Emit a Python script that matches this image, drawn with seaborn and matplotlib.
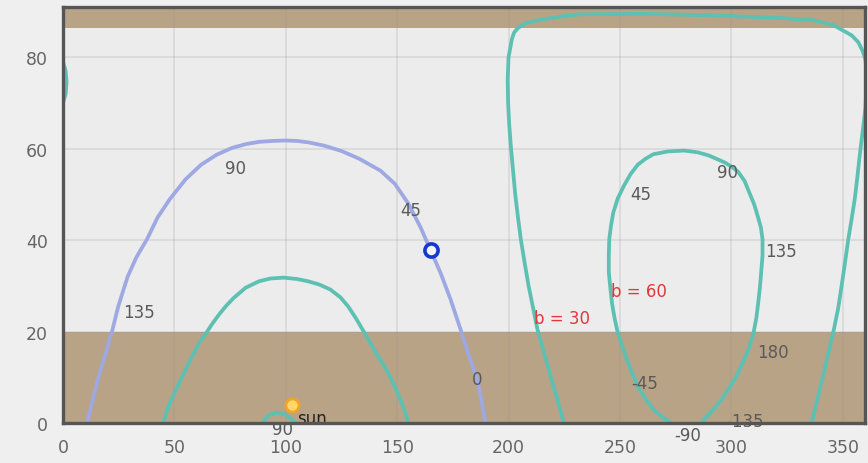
import numpy as np
import pandas as pd
import matplotlib
matplotlib.use("Agg")
import matplotlib.pyplot as plt
import seaborn as sns

# ==============================
# DATA
# ==============================

# lavender arch
arch_x = [10.8, 15.6, 22, 24.8, 29, 33, 37.7, 42.5, 48, 55, 62, 69, 76, 82, 88, 94, 100, 105, 110, 117,
          125, 133, 142.5, 149, 155, 160.5, 165, 169.5, 174, 178.5, 182, 186, 189.7]
arch_y = [0, 9.5, 20, 25.5, 32, 36.3, 40.2, 45, 49, 53.3, 56.5, 58.7, 60.2, 61, 61.5, 61.7, 61.8, 61.7, 61.4, 60.7,
          59.5, 57.8, 55.2, 52.3, 48, 42.8, 37.8, 32.8, 27, 20.4, 15, 9.5, 0]

# teal inner arch
inner_x = [45, 46.5, 48.5, 50.5, 52.6, 55, 58, 61, 64.7, 67, 70, 73, 76.5, 82, 88, 93, 99, 105, 110, 115,
           120, 124.5, 128, 131.5, 135, 138, 141, 144, 147, 149.5, 151.5, 153.5, 155]
inner_y = [0, 2.5, 5, 7.0, 9.2, 11.7, 14.6, 17.4, 20, 21.7, 23.7, 25.5, 27.3, 29.6, 31, 31.6, 31.8, 31.5, 31, 30.3,
           29.2, 27.5, 25.5, 22.9, 20, 17.5, 14.9, 12.6, 10.0, 7.4, 5.0, 2.5, 0]

# small teal arc next to the sun
small_x = [89.5, 92, 96, 100, 104.5]
small_y = [0, 1.6, 2.3, 1.8, 0]

# big teal loop on the right (wraps past 360)
big_x = [224.8, 222, 219, 216, 213, 211, 209, 207.2, 205.5, 204.2, 203, 202, 201, 200.3, 199.8, 199.6, 200,
         201.5, 202.5, 204, 206, 208, 215, 225, 232, 260, 290, 322, 337, 346, 354, 357, 359, 360.2, 360.5,
         360.5, 360.2, 359.5, 358.5, 357.5, 356.5, 355.4, 354, 352.5, 351, 349.5, 348, 346, 343.5, 341, 338.5, 336]
big_y = [0, 5, 10, 15.2, 20.4, 25.2, 30, 35.1, 40.2, 45.1, 50, 55.3, 60.7, 65.3, 70, 75, 80,
         84, 85.4, 86.3, 87, 87.5, 88.3, 89, 89.4, 89.5, 89.2, 88.6, 88.1, 87, 84.8, 83.3, 81.3, 79.5, 78,
         72, 69, 66, 62, 58, 53.5, 49, 44.6, 40.2, 35, 30, 25.2, 20.4, 15.2, 10, 5, 0]

# wrapped piece on the left edge
wrap_x = [0, 1.2, 1.6, 1.2, 0]
wrap_y = [70, 72, 74.5, 77, 79]

# teal loop (cut by the bottom)
loop_x = [273, 269, 265, 261.5, 258, 255.5, 253, 251, 249, 247.6, 246.5, 245.7, 245, 245, 245.2, 246, 247,
          249, 251.8, 254.7, 258, 261.5, 265, 271.5, 278.8, 285, 290, 297, 300, 303, 306, 308, 310.2, 312,
          313.3, 314, 314, 313.4, 312.8, 312, 311.2, 310, 308, 305, 302, 298.6, 295.4, 292, 289, 286.4]
loop_y = [0, 1.3, 3, 5.3, 7.9, 10.9, 14, 16.8, 19.8, 22.9, 26, 29.5, 33, 36.6, 40.2, 43.2, 46,
          49.1, 51.9, 54.4, 56.5, 57.8, 58.8, 59.4, 59.6, 59.2, 58.5, 57, 56.1, 55, 52.9, 50.5, 47.9, 45,
          42.7, 40.2, 36.6, 33, 29.5, 26, 22.9, 19.8, 16.5, 13, 10, 7.3, 5, 3, 1.4, 0]

# angle labels
angle_text = ["135", "90", "45", "0", "45", "90", "135", "180", "-45", "-90", "-135", "90"]
angle_x = [33.9, 77.6, 156, 185.7, 259.4, 298.3, 322.4, 318.8, 261, 280.3, 306, 98.7]
angle_y = [24.3, 55.7, 46.7, 9.6, 50.1, 55, 37.7, 15.5, 8.7, -2.6, 0.5, -1.3]

# red labels
b_text = ["b = 30", "b = 60"]
b_x = [211.3, 246]
b_y = [23, 28.9]

sun_x, sun_y = [103], [4]
obj_x, obj_y = [165], [37.8]

xticks = [0, 50, 100, 150, 200, 250, 300, 350]
yticks = [0, 20, 40, 60, 80]

# ==============================
# PLOT
# ==============================

sns.set_style("white")
plt.rcParams["font.family"] = ["DejaVu Sans"]

teal = "#5cc0b2"
lavender = "#9ea8e2"
brown = "#b9a387"

fig = plt.figure(figsize=(8.68, 4.64), dpi=100, facecolor="#efefef")
ax = fig.add_axes([63 / 868, 40 / 464, 802 / 868, 416 / 464])
ax.set_facecolor("#ececec")

ax.axhspan(0, 20, color=brown, zorder=0.3, lw=0)
ax.axhspan(86.5, 91, color=brown, zorder=0.3, lw=0)

curves = [
    (arch_x, arch_y, lavender),
    (inner_x, inner_y, teal),
    (small_x, small_y, teal),
    (big_x, big_y, teal),
    (wrap_x, wrap_y, teal),
    (loop_x, loop_y, teal),
]
for cx, cy, col in curves:
    df = pd.DataFrame({"x": cx, "y": cy})
    sns.lineplot(data=df, x="x", y="y", sort=False, estimator=None,
                 color=col, lw=2.7, ax=ax, zorder=2,
                 solid_joinstyle="round", solid_capstyle="round")

sns.scatterplot(x=sun_x, y=sun_y, s=90, color="#ffd66a", edgecolor="#f0a428",
                linewidth=2, ax=ax, zorder=4, clip_on=False)
sns.scatterplot(x=obj_x, y=obj_y, s=90, color="#f4f4f4", edgecolor="#1538d0",
                linewidth=2.6, ax=ax, zorder=4)

for t, x, y in zip(angle_text, angle_x, angle_y):
    ax.text(x, y, t, fontsize=12, color="#5a5a5a", ha="center", va="center",
            zorder=5, clip_on=False)
for t, x, y in zip(b_text, b_x, b_y):
    ax.text(x, y, t, fontsize=12, color="#e0383c", ha="left", va="center", zorder=5)
ax.text(105.2, 1.1, "sun", fontsize=12, color="#222222", ha="left", va="center",
        zorder=5, clip_on=False)

ax.set_xlim(0, 360)
ax.set_ylim(0, 91)
ax.set_xticks(xticks)
ax.set_yticks(yticks)
ax.set_xlabel("")
ax.set_ylabel("")
ax.set_axisbelow(True)
ax.grid(True, color="#909090", alpha=0.22, lw=1.2)
ax.tick_params(length=0, labelsize=12.5, labelcolor="#666666", pad=11)
for s in ax.spines.values():
    s.set_visible(True)
    s.set_color("#555555")
    s.set_linewidth(2.4)
    s.set_zorder(6)

fig.savefig("out.png", dpi=100, facecolor=fig.get_facecolor())
